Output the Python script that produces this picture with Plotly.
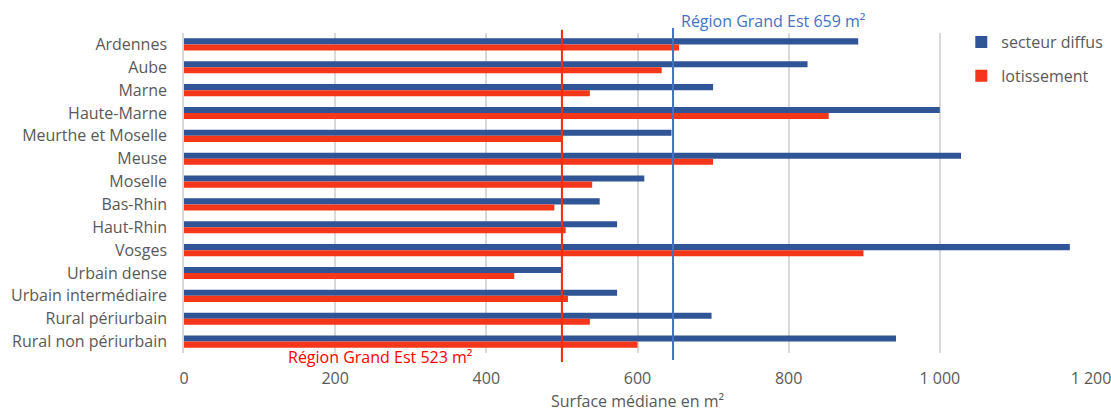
import plotly.graph_objects as go

categories = ["Ardennes", "Aube", "Marne", "Haute-Marne", "Meurthe et Moselle", "Meuse",
              "Moselle", "Bas-Rhin", "Haut-Rhin", "Vosges", "Urbain dense",
              "Urbain intermédiaire", "Rural périurbain", "Rural non périurbain"]
secteur_diffus = [892, 825, 700, 1000, 645, 1028, 609, 550, 573, 1172, 499, 573, 698, 942]
lotissement = [655, 632, 537, 853, 499, 700, 540, 490, 505, 899, 437, 508, 537, 600]

series_names = ["secteur diffus", "lotissement"]
x_tickvals = [0, 200, 400, 600, 800, 1000, 1200]
x_ticktext = ["0", "200", "400", "600", "800", "1 000", "1 200"]

# reference lines (position as drawn, label text)
ref_blue_pos = 647
ref_blue_label = "Région Grand Est 659 m²"
ref_red_pos = 500
ref_red_label = "Région Grand Est 523 m²"

BLUE = "#2F5597"
RED = "#F4361A"
GREY = "#595959"
FONT = "Open Sans"
FS = 16

fig = go.Figure()
fig.add_trace(go.Bar(y=categories, x=secteur_diffus, name=series_names[0], orientation="h",
                     marker=dict(color=BLUE, line=dict(width=0)), legendgroup="a"))
fig.add_trace(go.Bar(y=categories, x=lotissement, name=series_names[1], orientation="h",
                     marker=dict(color=RED, line=dict(width=0)), legendgroup="b"))

fig.add_shape(type="line", xref="x", yref="paper", x0=ref_red_pos, x1=ref_red_pos,
              y0=-0.028, y1=1.01, line=dict(color="#FF2A00", width=2), layer="above")
fig.add_shape(type="line", xref="x", yref="paper", x0=ref_blue_pos, x1=ref_blue_pos,
              y0=-0.022, y1=1.016, line=dict(color="#4472C4", width=2), layer="above")

fig.add_annotation(x=ref_blue_pos, xref="x", xanchor="left", xshift=6, y=1.0, yref="paper",
                   yanchor="bottom", yshift=-1, text=ref_blue_label, showarrow=False,
                   font=dict(family=FONT, size=FS, color="#4472C4"))
fig.add_annotation(x=ref_red_pos, xref="x", xanchor="right", xshift=-88, y=0, yref="paper",
                   yanchor="top", yshift=9, text=ref_red_label, showarrow=False,
                   font=dict(family=FONT, size=FS, color="#FF0000"))

fig.update_layout(
    width=1111, height=412,
    margin=dict(l=184, r=20, t=33, b=59, autoexpand=False),
    plot_bgcolor="white", paper_bgcolor="white",
    barmode="group", bargap=0.47, bargroupgap=0,
    font=dict(family=FONT, size=FS, color=GREY),
    legend=dict(x=0.857, y=1.025, xanchor="left", yanchor="top", bgcolor="rgba(0,0,0,0)",
                traceorder="grouped", tracegroupgap=10, font=dict(size=FS, color=GREY),
                itemwidth=30),
    xaxis=dict(range=[0, 1200], tickvals=x_tickvals, ticktext=x_ticktext, automargin=False,
               showgrid=True, gridcolor="#D9D9D9", gridwidth=1.5, zeroline=False,
               showline=False, ticks="", tickfont=dict(size=FS, color=GREY),
               ticklabelstandoff=14, ticklabeloverflow="allow",
               title=dict(text="Surface médiane en m²", font=dict(size=FS, color=GREY), standoff=16)),
    yaxis=dict(autorange="reversed", showgrid=False, showline=True, linecolor="#D9D9D9",
               linewidth=1.5, ticks="", automargin=False, tickfont=dict(size=FS, color=GREY),
               ticklabelstandoff=12),
)

fig.write_html("out.html", config={"displayModeBar": False},
               post_script="document.body.style.margin='0';document.body.style.overflow='hidden';")
